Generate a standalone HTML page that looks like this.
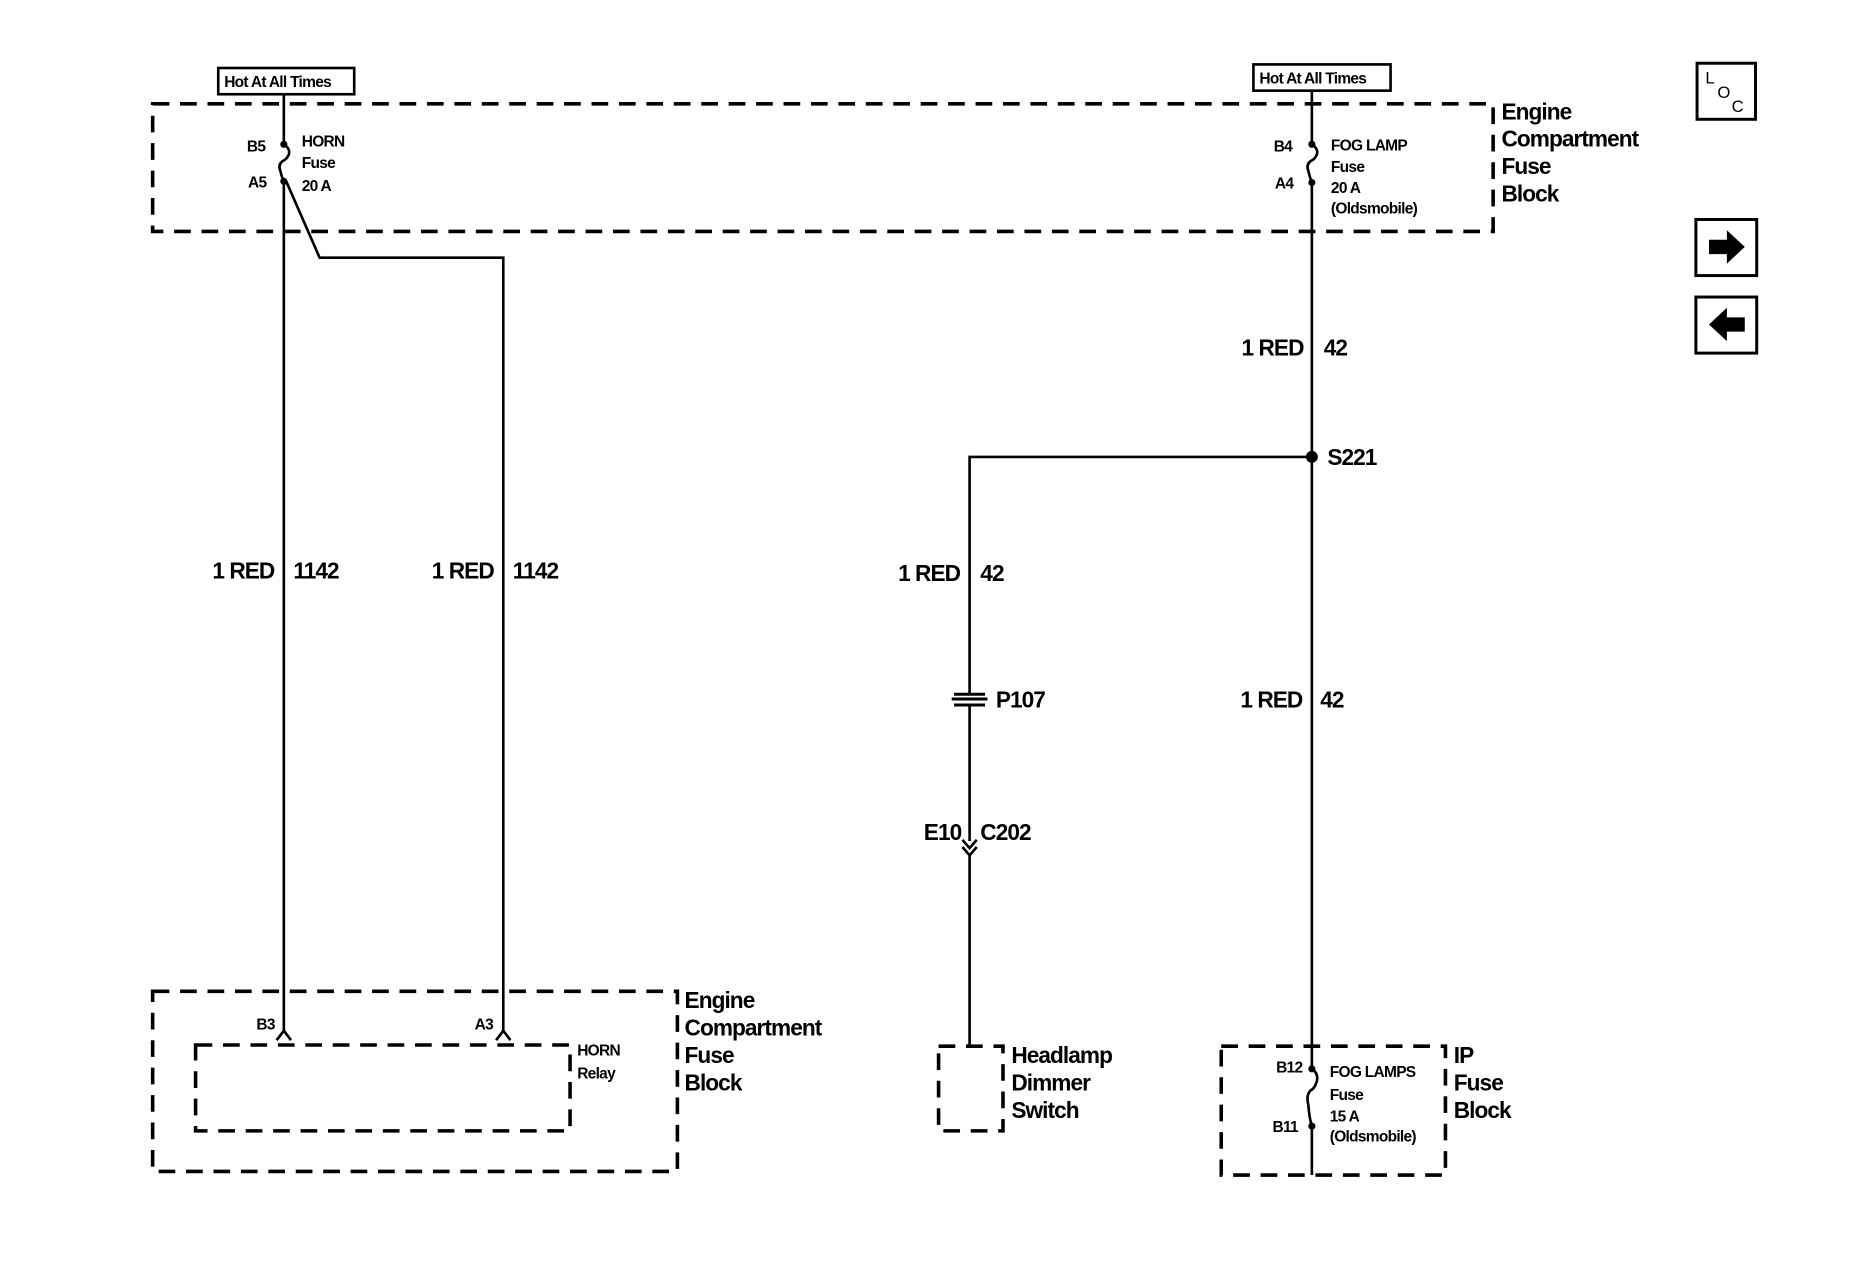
<!DOCTYPE html>
<html><head><style>html,body{margin:0;padding:0;background:#fff}svg{display:block}</style></head><body>
<svg width="1870" height="1280" viewBox="0 0 1568 1073" preserveAspectRatio="none" xmlns="http://www.w3.org/2000/svg" font-family="Liberation Sans, sans-serif" font-weight="bold" fill="#000">
<g fill="none" stroke="#000" stroke-width="3" stroke-dasharray="14,9">
<rect x="128" y="87" width="1124" height="107"/>
<rect x="128" y="831" width="440" height="151"/>
<rect x="164" y="876" width="314" height="72"/>
<rect x="787" y="877" width="54" height="71"/>
<rect x="1024" y="877" width="188" height="108"/>
</g>
<g fill="none" stroke="#000" stroke-width="2.2">
<rect x="183" y="57" width="114" height="22"/>
<rect x="1051" y="54" width="115" height="22"/>
<path d="M238 79 V121 M238 152 V866"/>
<path d="M238 121 q6 4 4 9 q-2 4 -5 5 q-4 3 -2 8 q1 5 3 9"/>
<path d="M240 152 L268 216 H422 V866"/>
<path d="M232 872 L238 864 L244 872 M416 872 L422 864 L428 872"/>
<path d="M1100 76 V121 M1100 153 V896 M1100 944 V985"/>
<path d="M1100 121 q6 4 4 9 q-2 4 -5 5 q-4 3 -2 8 q1 5 3 10"/>
<path d="M1100 896 q6 4 4 11 q-2 6 -5 7 q-4 4 -2 12 q1 12 3 18"/>
<path d="M1100 383 H813 V582 M813 591 V705 M813 717 V876"/>
<path d="M807 704 L813 711 L819 704 M807 710 L813 717 L819 710"/>
<path d="M800 582 H826 M800 591 H826 M798 586 H828" stroke-width="2.5"/>
<rect x="1423" y="53" width="49" height="47" stroke-width="2.5"/>
<rect x="1422" y="184" width="51" height="47" stroke-width="2.5"/>
<rect x="1422" y="249" width="51" height="47" stroke-width="2.5"/>
</g>
<path d="M1433 201 H1448 V193 L1463 207 L1448 221 V213 H1433 Z"/>
<path d="M1463 266 H1448 V258 L1433 272 L1448 286 V278 H1463 Z"/>
<circle cx="238" cy="121" r="3"/><circle cx="238" cy="152" r="3"/>
<circle cx="1100" cy="121" r="3"/><circle cx="1100" cy="153" r="3"/>
<circle cx="1100" cy="896" r="3"/><circle cx="1100" cy="944" r="3"/>
<circle cx="1100" cy="383" r="5"/>
<g font-size="13" letter-spacing="-0.6">
<text x="188" y="73">Hot At All Times</text>
<text x="1056" y="70">Hot At All Times</text>
<text x="207" y="127">B5</text><text x="208" y="157">A5</text>
<text x="253" y="123">HORN</text><text x="253" y="141">Fuse</text><text x="253" y="160">20 A</text>
<text x="1068" y="127">B4</text><text x="1069" y="158">A4</text>
<text x="1116" y="126">FOG LAMP</text><text x="1116" y="144">Fuse</text><text x="1116" y="162">20 A</text><text x="1116" y="179">(Oldsmobile)</text>
<text x="215" y="863">B3</text><text x="398" y="863">A3</text>
<text x="484" y="885">HORN</text><text x="484" y="904">Relay</text>
<text x="1070" y="899">B12</text><text x="1067" y="949">B11</text>
<text x="1115" y="903">FOG LAMPS</text><text x="1115" y="922">Fuse</text><text x="1115" y="940">15 A</text><text x="1115" y="957">(Oldsmobile)</text>
</g>
<g font-size="19" letter-spacing="-0.8">
<text x="1259" y="100">Engine</text><text x="1259" y="123">Compartment</text><text x="1259" y="146">Fuse</text><text x="1259" y="169">Block</text>
<text x="574" y="845">Engine</text><text x="574" y="868">Compartment</text><text x="574" y="891">Fuse</text><text x="574" y="914">Block</text>
<text x="848" y="891">Headlamp</text><text x="848" y="914">Dimmer</text><text x="848" y="937">Switch</text>
<text x="1219" y="891">IP</text><text x="1219" y="914">Fuse</text><text x="1219" y="937">Block</text>
<text x="230" y="485" text-anchor="end">1 RED</text><text x="246" y="485">1142</text>
<text x="414" y="485" text-anchor="end">1 RED</text><text x="430" y="485">1142</text>
<text x="1093" y="298" text-anchor="end">1 RED</text><text x="1110" y="298">42</text>
<text x="805" y="487" text-anchor="end">1 RED</text><text x="822" y="487">42</text>
<text x="1092" y="593" text-anchor="end">1 RED</text><text x="1107" y="593">42</text>
<text x="1113" y="390">S221</text>
<text x="835" y="593">P107</text>
<text x="806" y="704" text-anchor="end">E10</text><text x="822" y="704">C202</text>
</g>
<g font-size="14" font-weight="normal">
<text x="1430" y="70">L</text><text x="1440" y="82">O</text><text x="1452" y="94">C</text>
</g>
</svg>
</body></html>
